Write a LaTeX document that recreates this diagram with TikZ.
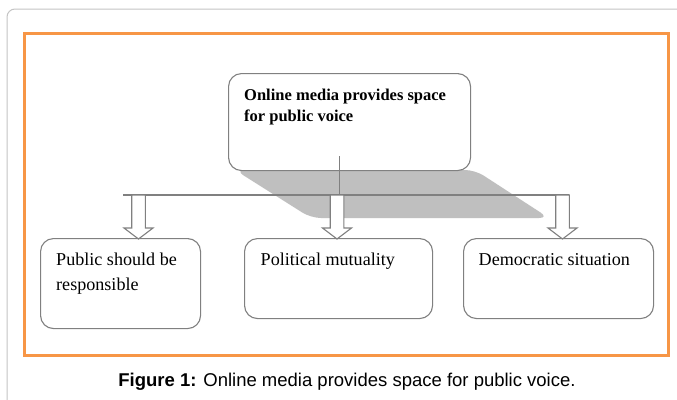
\documentclass[tikz,border=0pt]{standalone}
\usepackage{fontspec}
\setmainfont{Liberation Serif}
\newfontfamily\capfont{Liberation Sans}
\usetikzlibrary{calc}
\definecolor{orng}{HTML}{F79646}
\definecolor{boxgray}{HTML}{808080}
\definecolor{shadegray}{HTML}{BFBFBF}
\definecolor{framegray}{HTML}{C4C4C4}
\begin{document}
\begin{tikzpicture}[x=1pt,y=-1pt,
  box/.style={draw=boxgray, line width=1.1pt, rounded corners=13pt, fill=white, inner sep=0pt, anchor=north west},
  toptxt/.style={anchor=base west, inner sep=0pt, font=\fontsize{16.5}{20}\selectfont\bfseries},
  btxt/.style={anchor=base west, inner sep=0pt, font=\fontsize{18.1}{22}\selectfont},
  conn/.style={draw=boxgray, line width=1.1pt},
  blockarrow/.style={draw=boxgray, line width=1.1pt, fill=white, line join=miter},
  downarrow/.pic={\path[blockarrow] (-6.8,0) -- (-6.8,33) -- (-14.5,33) -- (0,44) -- (14.5,33) -- (6.8,33) -- (6.8,0) -- cycle;}
]
\useasboundingbox (0,0) rectangle (677,399);
\clip (0,0) rectangle (677,399);
\fill[white] (0,0) rectangle (677,399);
% outer page frame
\draw[framegray, line width=1pt, rounded corners=8pt] (7,9) rectangle (700,430);
% orange figure frame
\draw[orng, line width=3pt] (24,33) rectangle (668,355);
% shadow of top box
\fill[shadegray, rounded corners=10pt] (235,170) -- (475,170) -- (549,218) -- (311,218) -- cycle;
% boxes
\node[box, minimum width=242pt, minimum height=97pt] (top) at (228,73) {};
\node[box, minimum width=160pt, minimum height=90pt] (left) at (40,238) {};
\node[box, minimum width=188pt, minimum height=80pt] (mid) at (244,238) {};
\node[box, minimum width=190pt, minimum height=80pt] (right) at (463,238) {};
% connectors
\coordinate (stem) at ($(top.south)+(-10,-15)$);
\coordinate (bus) at (stem |- 0,195);
\coordinate (busL) at (123,195);
\coordinate (busR) at (569.3,195);
\draw[conn] (stem) -- (bus);
\draw[conn] (busL) -- (busR);
\pic at (138.5,195) {downarrow};
\pic at (337,195) {downarrow};
\pic at (562.5,195) {downarrow};
% texts
\node[toptxt] (t1) at (244,100) {Online media provides space};
\node[toptxt] (t2) at (244,121) {for public voice};
\node[btxt] (l1) at (56,265) {Public should be};
\node[btxt] (l2) at (56,290) {responsible};
\node[btxt] (m1) at (260.5,265) {Political mutuality};
\node[btxt] (r1) at (478.5,265) {Democratic situation};
\node[inner sep=0pt, anchor=base, font=\capfont\fontsize{18.5}{20}\selectfont] (cap) at (347,386) {\textbf{Figure 1:} Online media provides space for public voice.};
\end{tikzpicture}
\end{document}
